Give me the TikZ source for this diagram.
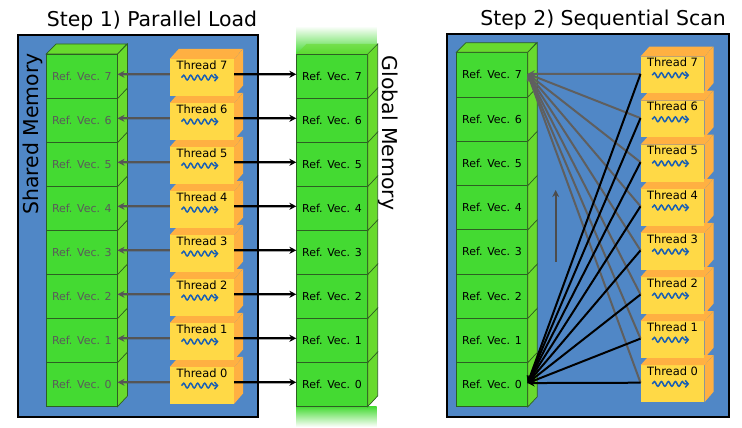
\documentclass[tikz,border=0pt]{standalone}
\usepackage{fontspec}
\setmainfont{DejaVu Sans}
\usetikzlibrary{arrows.meta,decorations.pathmorphing}
\definecolor{panelblue}{RGB}{80,135,198}
\definecolor{vecfront}{RGB}{68,218,50}
\definecolor{vecside}{RGB}{104,218,46}
\definecolor{edgegreen}{RGB}{45,95,35}
\definecolor{thrfront}{RGB}{255,217,70}
\definecolor{thrside}{RGB}{255,176,66}
\definecolor{squigblue}{RGB}{25,95,180}
\definecolor{arrowgray}{RGB}{85,85,85}
\definecolor{textgray}{RGB}{90,90,90}
\definecolor{linegray}{RGB}{95,95,95}
\tikzset{
  vecbox/.style={rectangle, draw=edgegreen, line width=0.7bp, fill=vecfront,
    minimum width=70.6bp, minimum height=44bp, inner sep=0pt,
    font=\fontsize{11}{13}\selectfont},
  threadbox/.style={rectangle, fill=thrfront, minimum width=64bp, inner sep=0pt,
    text height=10bp, text depth=26.4bp, font=\fontsize{11.5}{13}\selectfont},
  sideface/.style={fill=vecside, draw=edgegreen, line width=0.7bp},
  squiggle/.style={draw=squigblue, line width=1.5bp, decorate,
    decoration={snake, amplitude=2.4bp, segment length=7bp, post length=4bp},
    -{Straight Barb[length=3bp,width=7bp]}},
  loadarrow/.style={line width=2.2bp, -{Stealth[length=7bp,width=7bp]}},
  scanline/.style={line width=2bp, {Stealth[length=7bp,width=7bp]}-},
  panel/.style={fill=panelblue, draw=black, line width=2bp},
  title/.style={font=\fontsize{20.5}{24}\selectfont, anchor=base},
  memlabel/.style={font=\fontsize{20.5}{24}\selectfont},
}
\begin{document}
\begin{tikzpicture}[x=1bp,y=-1bp]
\useasboundingbox (0,0) rectangle (742,427);

% step 1: parallel load
\node[title] (title1) at (152,26.7) {Step 1) Parallel Load};
\draw[panel] (17.5,35) rectangle (258,417);
\node[memlabel, rotate=90] (shared) at (33,134) {Shared Memory};

% global memory column fades out at both ends
\shade[top color=white, bottom color=vecfront] (296.7,26) rectangle (376.7,54.3);
\shade[top color=vecfront, bottom color=white] (296.7,406.3) rectangle (376.7,427);
\node[memlabel, rotate=-90] (global) at (388,133) {Global Memory};

\foreach \i in {0,...,7} {
  \node[vecbox, text=textgray] (s\i) at (81.85,{76.3+(7-\i)*44}) {Ref. Vec. \i};
  \draw[sideface] (s\i.north east) -- ++(10,-10) -- ++(0,44) -- (s\i.south east) -- cycle;
  \node[vecbox] (g\i) at (332,{76.3+(7-\i)*44}) {Ref. Vec. \i};
  \draw[sideface] (g\i.north east) -- ++(10,-10) -- ++(0,44) -- (g\i.south east) -- cycle;
}
\draw[sideface] (s7.north west) -- ++(10,-10) -- ++(70.6,0) -- (s7.north east) -- cycle;
\fill[vecside, opacity=.6] (g7.north west) -- ++(10,-10) -- ++(70.6,0) -- (g7.north east) -- cycle;

\foreach \i in {0,...,7} {
  \node[threadbox] (lt\i) at (202,{77.3+(7-\i)*44}) {Thread \i};
  \fill[thrside] (lt\i.north west) -- ++(9,-10) -- ++(64,0) -- (lt\i.north east) -- cycle;
  \fill[thrside] (lt\i.north east) -- ++(9,-10) -- ++(0,36.4) -- (lt\i.south east) -- cycle;
  \draw[squiggle] ([shift={(11.7,18.7)}]lt\i.north west) -- ++(37,0);
}
\foreach \i in {0,...,7} {
  \draw[loadarrow, draw=arrowgray] ([yshift=3bp]lt\i.west) -- ([yshift=2bp]s\i.east);
  \draw[loadarrow] ([yshift=3bp]lt\i.east) -- ([yshift=2bp]g\i.west);
}

% step 2: sequential scan
\node[title] (title2) at (603,25) {Step 2) Sequential Scan};
\draw[panel] (447.3,34.3) rectangle (729,417.3);

\foreach \i in {0,...,7} {
  \node[vecbox, minimum height=44.25bp] (r\i) at (492,{74.8+(7-\i)*44.25}) {Ref. Vec. \i};
  \draw[sideface] (r\i.north east) -- ++(9.5,-9.5) -- ++(0,44.25) -- (r\i.south east) -- cycle;
}
\draw[sideface] (r7.north west) -- ++(9.5,-9.5) -- ++(70.6,0) -- (r7.north east) -- cycle;

\foreach \i in {0,...,7} {
  \node[threadbox, minimum width=63.6bp, text depth=26.6bp] (rt\i) at (672.5,{75+(7-\i)*44.1}) {Thread \i};
  \fill[thrside] (rt\i.north west) -- ++(9,-10) -- ++(63.6,0) -- (rt\i.north east) -- cycle;
  \fill[thrside] (rt\i.north east) -- ++(9,-10) -- ++(0,36.6) -- (rt\i.south east) -- cycle;
  \draw[squiggle] ([shift={(11.7,18.7)}]rt\i.north west) -- ++(37,0);
}
\foreach \i in {0,...,7} {
  \draw[scanline, draw=linegray] ([yshift=1bp]r7.east) -- ([yshift=1bp]rt\i.west);
}
\foreach \i in {0,...,7} {
  \draw[scanline] ([yshift=1.5bp]r0.east) -- ([yshift=1bp]rt\i.west);
}

\coordinate (scanlo) at (555.7,261.7);
\coordinate (scanhi) at (555.7,190);
\draw[line width=2bp, draw=black!70, -{Stealth[length=7bp,width=7bp]}] (scanlo) -- (scanhi);
\end{tikzpicture}
\end{document}
